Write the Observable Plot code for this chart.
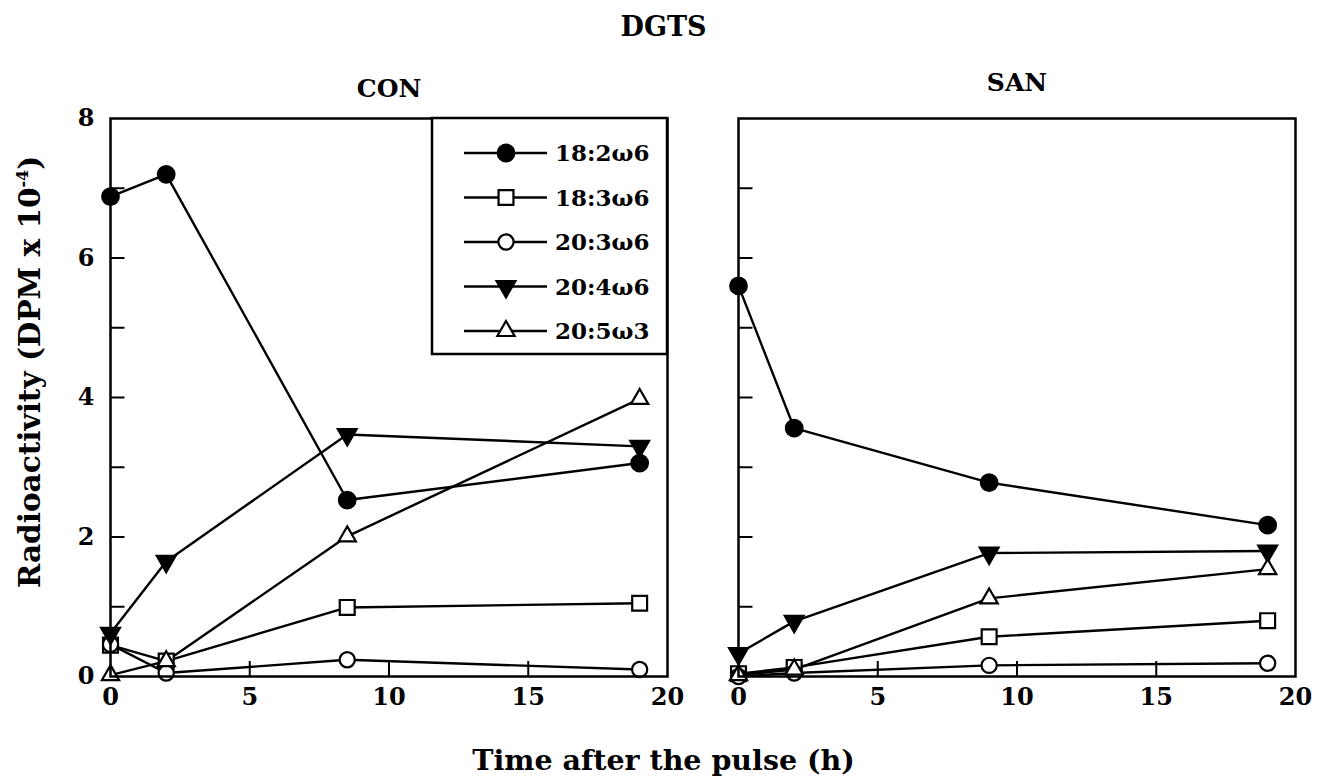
<!DOCTYPE html>
<html>
<head>
<meta charset="utf-8">
<script src="https://cdn.jsdelivr.net/npm/d3@7"></script>
<script src="https://cdn.jsdelivr.net/npm/@observablehq/plot@0.6"></script>
<style>
  body { margin: 0; background: #fff; }
  #wrap { position: relative; width: 1327px; height: 781px; font-family: "DejaVu Serif", serif; font-weight: bold; color: #000; }
  #title { position: absolute; left: 0; top: 11px; width: 1327px; text-align: center; font-size: 27px; line-height: 32px; }
  #chart { position: absolute; left: 0; top: 50px; }
  #legend { position: absolute; left: 432px; top: 118px; }
  #xtitle { position: absolute; left: 0; top: 744px; width: 1327px; text-align: center; font-size: 28.5px; line-height: 32px; }
  #ytitle { position: absolute; left: 30px; top: 372px; transform: translate(-50%, -50%) rotate(-90deg); white-space: nowrap; font-size: 29.5px; line-height: 34px; }
  #ytitle sup { font-size: 16px; vertical-align: 0.75em; line-height: 0; }
</style>
</head>
<body>
<div id="wrap">
  <div id="title">DGTS</div>
  <div id="chart"></div>
  <div id="legend"></div>
  <div id="xtitle">Time after the pulse (h)</div>
  <div id="ytitle">Radioactivity (DPM x 10<sup>-4</sup>)</div>
</div>
<script>
// ---- data ----
const panels = ["CON", "SAN"];
const seriesNames = ["18:2ω6", "18:3ω6", "20:3ω6", "20:4ω6", "20:5ω3"];
const timeCON = [0, 2, 8.5, 19];
const timeSAN = [0, 2, 9, 19];
const con_18_2 = [6.88, 7.20, 2.53, 3.06];
const con_18_3 = [0.45, 0.22, 0.99, 1.05];
const con_20_3 = [0.46, 0.05, 0.24, 0.10];
const con_20_4 = [0.62, 1.65, 3.47, 3.30];
const con_20_5 = [0.02, 0.22, 2.01, 3.98];
const san_18_2 = [5.60, 3.56, 2.78, 2.17];
const san_18_3 = [0.04, 0.13, 0.57, 0.80];
const san_20_3 = [0.00, 0.05, 0.16, 0.19];
const san_20_4 = [0.33, 0.79, 1.77, 1.80];
const san_20_5 = [0.02, 0.10, 1.12, 1.54];
const xTickLabels = [0, 5, 10, 15, 20];
const yTickLabels = [0, 2, 4, 6, 8];
const yMinorTicks = [1, 2, 3, 4, 5, 6, 7];
const xMinorTicks = [5, 10, 15];

// ---- table ----
const rows = [];
function add(panel, times, name, vals) {
  vals.forEach((v, i) => rows.push({panel, series: name, t: times[i], v}));
}
add("CON", timeCON, seriesNames[0], con_18_2);
add("CON", timeCON, seriesNames[1], con_18_3);
add("CON", timeCON, seriesNames[2], con_20_3);
add("CON", timeCON, seriesNames[3], con_20_4);
add("CON", timeCON, seriesNames[4], con_20_5);
add("SAN", timeSAN, seriesNames[0], san_18_2);
add("SAN", timeSAN, seriesNames[1], san_18_3);
add("SAN", timeSAN, seriesNames[2], san_20_3);
add("SAN", timeSAN, seriesNames[3], san_20_4);
add("SAN", timeSAN, seriesNames[4], san_20_5);

// down-pointing triangle symbol
const triangleDown = {
  draw(context, size) {
    const y = -Math.sqrt(size / (Math.sqrt(3) * 3));
    context.moveTo(0, -y * 2);
    context.lineTo(-Math.sqrt(3) * y, y);
    context.lineTo(Math.sqrt(3) * y, y);
    context.closePath();
  }
};
const styles = {
  "18:2ω6": {symbol: "circle", fill: "black", r: 8.3},
  "18:3ω6": {symbol: "square", fill: "white", r: 8.4},
  "20:3ω6": {symbol: "circle", fill: "white", r: 7.6},
  "20:4ω6": {symbol: triangleDown, fill: "black", r: 7.0},
  "20:5ω3": {symbol: "triangle", fill: "white", r: 6.4}
};

const H = 680, mTop = 68, mBottom = 54;
const frameH = H - mTop - mBottom;
const bandW = 557.5;

const dotMarks = seriesNames.map(name => Plot.dot(rows.filter(d => d.series === name), {
  x: "t", y: "v", fx: "panel",
  symbol: styles[name].symbol, r: styles[name].r,
  fill: styles[name].fill, stroke: "black", strokeWidth: 2.2
}));

const chart = Plot.plot({
  width: 1327, height: H,
  marginLeft: 110, marginRight: 31, marginTop: mTop, marginBottom: mBottom,
  style: {fontFamily: '"DejaVu Serif", serif', fontWeight: "bold", fontSize: "23px", background: "white", color: "black", overflow: "visible"},
  x: {domain: [0, 20], label: null},
  y: {domain: [0, 8], label: null},
  fx: {domain: panels, paddingInner: 0.113, paddingOuter: 0, label: null},
  marks: [
    Plot.tickY(yMinorTicks, {y: d => d, insetRight: bandW - 15, stroke: "black", strokeWidth: 2}),
    Plot.tickX(xMinorTicks, {x: d => d, insetTop: frameH - 15, stroke: "black", strokeWidth: 2}),
    Plot.line(rows, {x: "t", y: "v", z: "series", fx: "panel", stroke: "black", strokeWidth: 2.4}),
    ...dotMarks,
    Plot.frame({stroke: "black", strokeWidth: 2.5}),
    Plot.axisY({ticks: yTickLabels, tickSize: 0, tickPadding: 16, fontSize: 24, fontWeight: "bold", label: null}),
    Plot.axisX({ticks: xTickLabels, tickSize: 0, tickPadding: 11, fontSize: 24, fontWeight: "bold", label: null}),
    Plot.axisFx({anchor: "top", ticks: [panels[0]], tickSize: 0, tickPadding: 22, fontSize: 25, fontWeight: "bold", label: null}),
    Plot.axisFx({anchor: "top", ticks: [panels[1]], tickSize: 0, tickPadding: 28, fontSize: 25, fontWeight: "bold", label: null})
  ]
});
document.getElementById("chart").appendChild(chart);

// ---- legend (inside CON panel, top-right) ----
const lw = 235, lh = 236;
const lsvg = d3.select("#legend").append("svg").attr("width", lw).attr("height", lh)
  .style("overflow", "visible");
lsvg.append("rect").attr("x", 0).attr("y", 0).attr("width", lw).attr("height", lh)
  .attr("fill", "white").attr("stroke", "black").attr("stroke-width", 2.5);
const symMap = {circle: d3.symbolCircle, square: d3.symbolSquare, triangle: d3.symbolTriangle};
seriesNames.forEach((name, i) => {
  const y = 35 + i * 44.5;
  const g = lsvg.append("g");
  g.append("line").attr("x1", 32).attr("x2", 115).attr("y1", y).attr("y2", y)
    .attr("stroke", "black").attr("stroke-width", 2.3);
  const st = styles[name];
  const sym = typeof st.symbol === "string" ? symMap[st.symbol] : st.symbol;
  g.append("path").attr("d", d3.symbol(sym, Math.PI * st.r * st.r)())
    .attr("transform", `translate(74,${y})`)
    .attr("fill", st.fill).attr("stroke", "black").attr("stroke-width", 2.2);
  g.append("text").attr("x", 123).attr("y", y).attr("dy", "0.35em")
    .attr("font-family", '"DejaVu Serif", serif').attr("font-weight", "bold").attr("font-size", 23)
    .text(name);
});
</script>
</body>
</html>
